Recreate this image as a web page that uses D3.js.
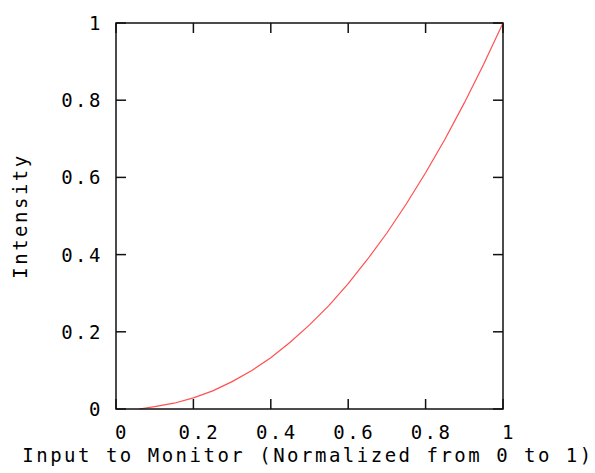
<!DOCTYPE html>
<html lang="en">
<head>
    <meta charset="UTF-8" />
    <title>Intensity vs monitor input</title>
    <style>
        body { margin: 0; background: #fff; }
        svg { display: block; }
        text {
            font-family: "DejaVu Sans Mono", monospace;
            font-size: 19px;
            letter-spacing: 2.5px;
            fill: #000;
        }
    </style>
</head>
<body>
    <svg></svg>
    <script src="https://d3js.org/d3.v7.min.js"></script>
    <script>
        // values
        const inputs = [0.06, 0.1, 0.15, 0.2, 0.25, 0.3, 0.35, 0.4, 0.45, 0.5,
            0.55, 0.6, 0.65, 0.7, 0.75, 0.8, 0.85, 0.9, 0.95, 1.0];
        const intensity = [0, 0.006, 0.015, 0.029, 0.047, 0.071, 0.099, 0.133, 0.173, 0.218,
            0.268, 0.325, 0.388, 0.456, 0.531, 0.612, 0.699, 0.793, 0.893, 1.0];
        const xTicks = [0, 0.2, 0.4, 0.6, 0.8, 1];
        const yTicks = [0, 0.2, 0.4, 0.6, 0.8, 1];
        const xTitle = "Input to Monitor (Normalized from 0 to 1)";
        const yTitle = "Intensity";

        const width = 595, height = 473;
        const plotLeft = 116, plotRight = 503, plotTop = 23, plotBottom = 409;
        const tickLen = 10;

        const svg = d3.select("svg").attr("width", width).attr("height", height);

        const x = d3.scaleLinear().domain([0, 1]).range([plotLeft, plotRight]);
        const y = d3.scaleLinear().domain([0, 1]).range([plotBottom, plotTop]);

        const fmt = d => d === 0 ? "0" : d === 1 ? "1" : d.toFixed(1);

        // ticks, drawn inward on all four sides
        const g = svg.append("g").attr("stroke", "#111").attr("stroke-width", 1.5);
        xTicks.forEach(t => {
            g.append("line").attr("x1", x(t)).attr("x2", x(t)).attr("y1", plotBottom).attr("y2", plotBottom - tickLen);
            g.append("line").attr("x1", x(t)).attr("x2", x(t)).attr("y1", plotTop).attr("y2", plotTop + tickLen);
        });
        yTicks.forEach(t => {
            g.append("line").attr("x1", plotLeft).attr("x2", plotLeft + tickLen).attr("y1", y(t)).attr("y2", y(t));
            g.append("line").attr("x1", plotRight).attr("x2", plotRight - tickLen).attr("y1", y(t)).attr("y2", y(t));
        });

        // curve
        const data = inputs.map((v, i) => [v, intensity[i]]);
        svg.append("path")
            .datum(data)
            .attr("fill", "none")
            .attr("stroke", "#ff5050")
            .attr("stroke-width", 1.2)
            .attr("d", d3.line().x(d => x(d[0])).y(d => y(d[1])));

        // frame
        svg.append("rect")
            .attr("x", plotLeft).attr("y", plotTop)
            .attr("width", plotRight - plotLeft).attr("height", plotBottom - plotTop)
            .attr("fill", "none").attr("stroke", "#111").attr("stroke-width", 1.5);

        // tick labels
        svg.append("g").selectAll("text")
            .data(xTicks)
            .join("text")
            .attr("x", d => x(d) + 6)
            .attr("y", 439)
            .attr("text-anchor", "middle")
            .text(fmt);

        svg.append("g").selectAll("text")
            .data(yTicks)
            .join("text")
            .attr("x", 103)
            .attr("y", d => y(d) + 7)
            .attr("text-anchor", "end")
            .text(fmt);

        // axis titles
        svg.append("text")
            .attr("x", 308)
            .attr("y", 462)
            .attr("text-anchor", "middle")
            .text(xTitle);

        svg.append("text")
            .attr("transform", `translate(27, ${(plotTop + plotBottom) / 2}) rotate(-90)`)
            .attr("text-anchor", "middle")
            .text(yTitle);
    </script>
</body>
</html>
